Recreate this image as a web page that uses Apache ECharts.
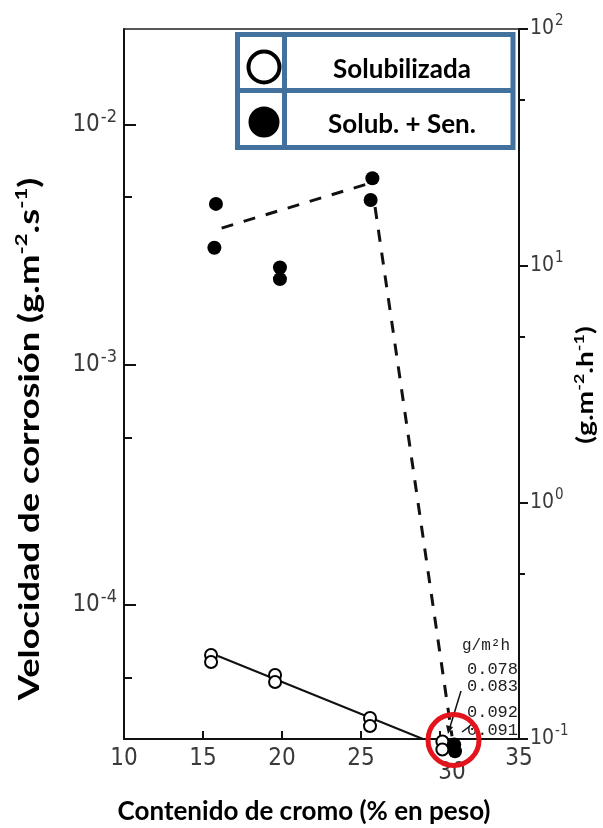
<!DOCTYPE html>
<html><head><meta charset="utf-8">
<script src="https://cdn.jsdelivr.net/npm/echarts@6/dist/echarts.min.js"></script>
<style>html,body{margin:0;padding:0;background:#fff}#c{width:603px;height:828px}</style>
</head><body><div id="c"></div>
<script>
// ---- data ----
const xTicks = [10, 15, 20, 25, 30, 35];
const leftMajorTicks = [1e-4, 1e-3, 1e-2];
const leftMinorTicks = [5e-5, 5e-4, 5e-3];
const rightMajorTicks = [0.1, 1, 10, 100];
const rightMinorTicks = [0.5, 5, 50];
// Solubilizada (open circles), g.m-2.s-1
const solubX = [15.51, 15.51, 19.56, 19.56, 25.57, 25.57, 30.15, 30.15];
const solubY = [6.19e-5, 5.79e-5, 5.11e-5, 4.78e-5, 3.38e-5, 3.13e-5, 2.70e-5, 2.50e-5];
// Solub. + Sen. (filled circles)
const senX = [15.82, 15.72, 19.87, 19.87, 25.72, 25.61, 30.9, 30.95];
const senY = [4.69e-3, 3.08e-3, 2.55e-3, 2.28e-3, 6.0e-3, 4.87e-3, 2.62e-5, 2.46e-5];
// trend lines
const solidFitX = [15.95, 28.92];
const solidFitY = [6.13e-5, 2.765e-5];
const dashUpX = [16.18, 25.36];
const dashUpY = [3.72e-3, 5.67e-3];
const dashDownX = [25.89, 30.76];
const dashDownY = [4.55e-3, 2.84e-5];
// annotation texts
const annotUnit = 'g/m²h';
const annotValues = ['0.078', '0.083', '0.092', '0.091'];
const seriesNames = ['Solubilizada', 'Solub. + Sen.'];

const zip = (xs, ys) => xs.map((x, i) => [x, ys[i]]);
const lblFont = '"Liberation Sans Narrow","DejaVu Sans Condensed","Liberation Sans",sans-serif';
const titleFont = 'Lato, "Open Sans", sans-serif';
const monoFont = '"Liberation Mono","DejaVu Sans Mono",monospace';
const LMIN = Math.pow(10, -4.5583), LMAX = Math.pow(10, -1.6);
const supLabel = v => '{b|10}{s|' + Math.round(Math.log10(v)) + '}';
const supRich = (b, bl, s) => ({
  b: { fontSize: b, lineHeight: bl, fontFamily: lblFont, color: '#3a3a3a' },
  s: { fontSize: s, lineHeight: s, verticalAlign: 'top', fontFamily: lblFont, color: '#3a3a3a', padding: [0, 0, 0, 1] }
});
const annText = (x, y, t, size, align) => ({
  type: 'text', z: 5, x: x, y: y,
  style: { text: t, font: size + 'px ' + monoFont, fill: '#222', align: align, verticalAlign: 'middle' }
});

const chart = echarts.init(document.getElementById('c'), null, { renderer: 'canvas' });
chart.setOption({
  backgroundColor: '#fff',
  animation: false,
  grid: { left: 124, right: 84, top: 29, bottom: 89, containLabel: false },
  xAxis: [
    {
      type: 'value', min: 10, max: 35, interval: 5, position: 'bottom',
      axisLine: { show: true, lineStyle: { color: '#111', width: 2 } },
      axisTick: { show: true, inside: true, length: 8, lineStyle: { color: '#111', width: 2 } },
      splitLine: { show: false },
      axisLabel: {
        margin: 8, fontSize: 24, fontFamily: lblFont, color: '#3a3a3a',
        customValues: xTicks,
        formatter: v => v === 30 ? '{o|30}' : '{n|' + v + '}',
        rich: {
          n: { fontSize: 24, fontFamily: lblFont, color: '#3a3a3a' },
          o: { fontSize: 24, fontFamily: lblFont, color: '#3a3a3a', padding: [14, 0, 0, 24] }
        }
      }
    },
    {
      type: 'value', min: 10, max: 35, position: 'top',
      axisLine: { show: true, lineStyle: { color: '#222', width: 1.5 } },
      axisTick: { show: false }, axisLabel: { show: false }, splitLine: { show: false }
    }
  ],
  yAxis: [
    {
      type: 'log', min: LMIN, max: LMAX, position: 'left',
      axisLine: { show: true, lineStyle: { color: '#111', width: 2 } },
      axisTick: { show: true, inside: true, length: 12, customValues: leftMajorTicks, lineStyle: { color: '#111', width: 2 } },
      splitLine: { show: false },
      axisLabel: { margin: 7, customValues: leftMajorTicks, formatter: supLabel, rich: supRich(24, 34, 18) }
    },
    {
      type: 'log', min: 0.1, max: 100, position: 'right',
      axisLine: { show: true, lineStyle: { color: '#111', width: 2 } },
      axisTick: { show: true, inside: false, length: 9, customValues: rightMajorTicks, lineStyle: { color: '#111', width: 2 } },
      splitLine: { show: false },
      axisLabel: { margin: 11, customValues: rightMajorTicks, formatter: supLabel, rich: supRich(21, 30, 15) }
    },
    {
      type: 'log', min: LMIN, max: LMAX, position: 'left',
      axisLine: { show: false },
      axisTick: { show: true, inside: true, length: 8, customValues: leftMinorTicks, lineStyle: { color: '#111', width: 2 } },
      splitLine: { show: false }, axisLabel: { show: false }
    },
    {
      type: 'log', min: 0.1, max: 100, position: 'right',
      axisLine: { show: false },
      axisTick: { show: true, inside: false, length: 6, customValues: rightMinorTicks, lineStyle: { color: '#111', width: 2 } },
      splitLine: { show: false }, axisLabel: { show: false }
    }
  ],
  legend: {
    orient: 'vertical', left: 246.5, top: 49.5, padding: 0,
    itemWidth: 31, itemHeight: 31, itemGap: 22, selectedMode: false,
    data: [
      { name: seriesNames[0], icon: 'circle', itemStyle: { color: '#fff', borderColor: '#000', borderWidth: 4 } },
      { name: seriesNames[1], icon: 'circle', itemStyle: { color: '#000', borderWidth: 0 } }
    ],
    formatter: n => '{t|' + n + '}',
    textStyle: {
      rich: { t: { width: 235, align: 'center', fontSize: 26, fontWeight: 'bold', fontFamily: titleFont, color: '#000', padding: [6, 0, 0, 0] } }
    }
  },
  series: [
    {
      name: 'fit-solid', type: 'line', data: zip(solidFitX, solidFitY), showSymbol: false, symbol: 'none',
      lineStyle: { color: '#111', width: 2 }, silent: true, z: 1
    },
    {
      name: 'fit-dash-1', type: 'line', data: zip(dashUpX, dashUpY), showSymbol: false, symbol: 'none',
      lineStyle: { color: '#111', width: 3, type: [12, 11] }, silent: true, z: 1
    },
    {
      name: 'fit-dash-2', type: 'line', data: zip(dashDownX, dashDownY), showSymbol: false, symbol: 'none', clip: false,
      lineStyle: { color: '#111', width: 3, type: [12, 11] }, silent: true, z: 1
    },
    {
      name: seriesNames[0], type: 'scatter', data: zip(solubX, solubY), clip: false,
      symbol: 'circle', symbolSize: 12,
      itemStyle: { color: '#fff', borderColor: '#000', borderWidth: 2, opacity: 1 }, z: 3
    },
    {
      name: seriesNames[1], type: 'scatter', data: zip(senX, senY), clip: false,
      symbol: 'circle', symbolSize: 14,
      itemStyle: { color: '#000', opacity: 1 }, z: 3
    }
  ],
  graphic: [
    { type: 'rect', z: 3, shape: { x: 237.5, y: 34.5, width: 275.5, height: 113 }, style: { fill: '#fff', stroke: '#41719C', lineWidth: 5 } },
    { type: 'line', z: 3, shape: { x1: 284.5, y1: 34.5, x2: 284.5, y2: 147.5 }, style: { stroke: '#41719C', lineWidth: 5 } },
    { type: 'line', z: 3, shape: { x1: 237.5, y1: 90.5, x2: 513, y2: 90.5 }, style: { stroke: '#41719C', lineWidth: 5 } },
    // annotations near 30 % Cr
    annText(486, 646, annotUnit, 16, 'center'),
    annText(518, 669, annotValues[0], 17, 'right'),
    annText(518, 686, annotValues[1], 17, 'right'),
    annText(518, 712, annotValues[2], 17, 'right'),
    annText(518, 730, annotValues[3], 17, 'right'),
    { type: 'line', z: 5, shape: { x1: 461, y1: 691, x2: 450, y2: 727 }, style: { stroke: '#111', lineWidth: 1.5 } },
    { type: 'polygon', z: 5, shape: { points: [[446, 725], [453, 727], [448, 734]] }, style: { fill: '#111' } },
    { type: 'line', z: 5, shape: { x1: 462, y1: 732, x2: 470, y2: 726 }, style: { stroke: '#111', lineWidth: 1.5 } },
    // red highlight circle
    { type: 'circle', z: 10, shape: { cx: 453.5, cy: 740, r: 25.5 }, style: { fill: 'none', stroke: '#e3141b', lineWidth: 5 } },
    // axis titles
    { type: 'text', z: 5, x: 304, y: 812, style: { text: 'Contenido de cromo (% en peso)', font: 'bold 26px ' + titleFont, fill: '#000', align: 'center', verticalAlign: 'middle' } },
    { type: 'text', z: 5, x: 30, y: 439, rotation: Math.PI / 2, scaleX: 1.3, style: {
      text: '{b|Velocidad de corrosión (g.m}{s|-2}{b|.s}{s|-1}{b|)}', align: 'center', verticalAlign: 'middle', fill: '#000',
      rich: { b: { fontSize: 28, lineHeight: 34, fontWeight: 'bold', fontFamily: titleFont }, s: { fontSize: 17, lineHeight: 18, verticalAlign: 'top', fontWeight: 'bold', fontFamily: titleFont } } } },
    { type: 'text', z: 5, x: 586, y: 385, rotation: Math.PI / 2, scaleX: 1.28, style: {
      text: '{b|(g.m}{s|-2}{b|.h}{s|-1}{b|)}', align: 'center', verticalAlign: 'middle', fill: '#000',
      rich: { b: { fontSize: 22, lineHeight: 28, fontWeight: 'bold', fontFamily: titleFont }, s: { fontSize: 14, lineHeight: 14, verticalAlign: 'top', fontWeight: 'bold', fontFamily: titleFont } } } }
  ]
});
</script></body></html>
